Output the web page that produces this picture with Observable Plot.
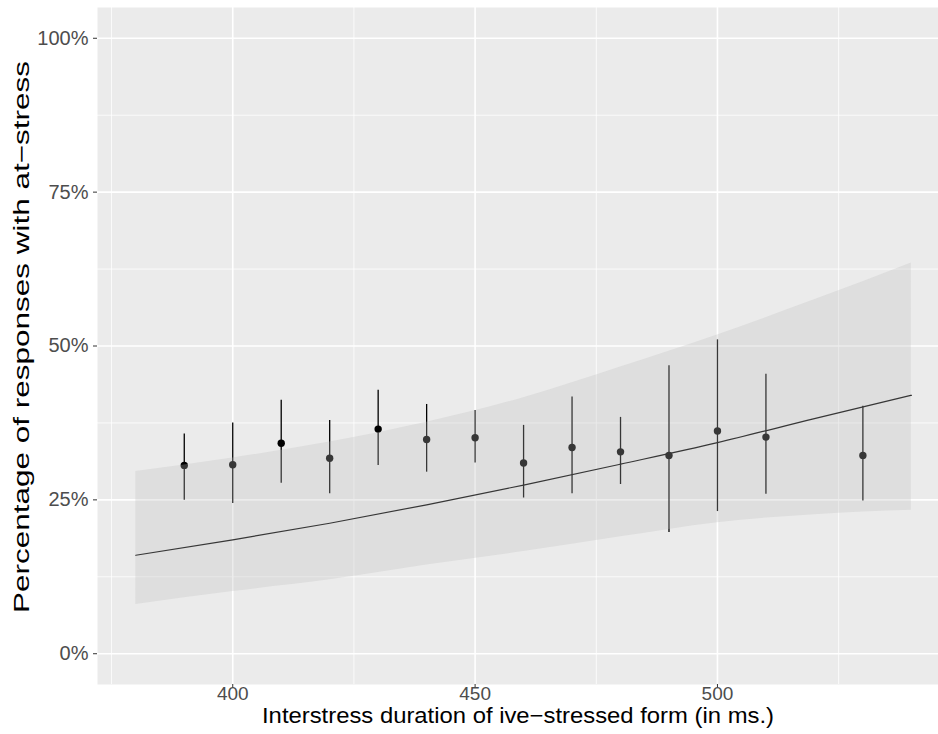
<!DOCTYPE html>
<html>
<head>
<meta charset="utf-8">
<script src="https://cdn.jsdelivr.net/npm/d3@7"></script>
<script src="https://cdn.jsdelivr.net/npm/@observablehq/plot@0.6"></script>
<style>
  html, body { margin: 0; padding: 0; background: white; overflow: hidden; }
</style>
</head>
<body>
<div id="chart"></div>
<script>
// Observed binned data (interstress duration, % at-stress, 95% interval)
const durations = [390, 400, 410, 420, 430, 440, 450, 460, 470, 480, 490, 500, 510, 530];
const pctAtStress = [30.6, 30.7, 34.2, 31.75, 36.5, 34.8, 35.1, 31.0, 33.5, 32.8, 32.2, 36.2, 35.2, 32.2];
const pctLow  = [24.95, 24.4, 27.7, 26.0, 30.6, 29.5, 31.0, 25.3, 26.0, 27.5, 19.7, 23.1, 25.9, 24.8];
const pctHigh = [35.7, 37.5, 41.2, 37.9, 42.8, 40.5, 39.5, 37.1, 41.7, 38.4, 46.8, 51.0, 45.4, 40.2];

// Fitted curve and confidence band
const fitDur  = [380, 400, 420, 440, 460, 480, 500, 520, 540];
const fitMid  = [16.0, 18.5, 21.2, 24.2, 27.4, 30.8, 34.3, 38.2, 42.0];
const fitLow  = [8.0, 10.1, 12.0, 14.4, 16.6, 19.0, 21.3, 22.6, 23.3];
const fitHigh = [29.6, 31.8, 34.4, 37.6, 41.6, 46.6, 51.8, 57.5, 63.5];

// Ticks
const xMajor = [400, 450, 500];
const xMinor = [375, 425, 475, 525];
const yMajor = [0, 25, 50, 75, 100];
const yMinor = [12.5, 37.5, 62.5, 87.5];

const xTitle = "Interstress duration of ive\u2212stressed form (in ms.)";
const yTitle = "Percentage of responses with at\u2212stress";

const points = durations.map((d, i) => ({x: d, y: pctAtStress[i], lo: pctLow[i], hi: pctHigh[i]}));
const fit = fitDur.map((d, i) => ({x: d, mid: fitMid[i], lo: fitLow[i], hi: fitHigh[i]}));

const chart = Plot.plot({
  width: 938,
  height: 734,
  marginLeft: 97,
  marginRight: 0,
  marginTop: 7,
  marginBottom: 50,
  style: {background: "white", fontFamily: "'Liberation Sans', Arial, Helvetica, sans-serif"},
  x: {domain: [372.1, 545.6]},
  y: {domain: [-5, 105]},
  marks: [
    Plot.frame({fill: "#EBEBEB", stroke: null}),
    Plot.ruleX(xMinor, {stroke: "white", strokeWidth: 0.8}),
    Plot.ruleY(yMinor, {stroke: "white", strokeWidth: 0.8}),
    Plot.ruleX(xMajor, {stroke: "white", strokeWidth: 1.6}),
    Plot.ruleY(yMajor, {stroke: "white", strokeWidth: 1.6}),
    Plot.ruleX(points, {x: "x", y1: "lo", y2: "hi", stroke: "black", strokeWidth: 1.3}),
    Plot.dot(points, {x: "x", y: "y", r: 3.7, fill: "black", stroke: null}),
    Plot.line(fit, {x: "x", y: "mid", stroke: "black", strokeWidth: 1.2, curve: "monotone-x"}),
    Plot.areaY(fit, {x: "x", y1: "lo", y2: "hi", fill: "#bebebe", fillOpacity: 0.29, curve: "monotone-x"}),
    Plot.axisX(xMajor, {tickSize: 4, tickPadding: -2, fontSize: 19, stroke: "#333333", fill: "#4D4D4D", label: null}),
    Plot.axisY(yMajor, {tickSize: 4, tickPadding: 5, fontSize: 20, stroke: "#333333", fill: "#4D4D4D", label: null, tickFormat: d => d + "%"}),
    Plot.text([xTitle], {frameAnchor: "bottom", dy: 38, fontSize: 22, fill: "black"}),
    Plot.text([yTitle], {frameAnchor: "left", rotate: -90, dx: -76, dy: 267, textAnchor: "start", fontSize: 22, fill: "black"})
  ]
});

document.getElementById("chart").appendChild(chart);

// stretch titles to the reference extents
chart.querySelectorAll("text").forEach(t => {
  if (t.textContent === xTitle) { t.setAttribute("textLength", 512); t.setAttribute("lengthAdjust", "spacingAndGlyphs"); }
  if (t.textContent === yTitle) { t.setAttribute("textLength", 552); t.setAttribute("lengthAdjust", "spacingAndGlyphs"); }
});
</script>
</body>
</html>
